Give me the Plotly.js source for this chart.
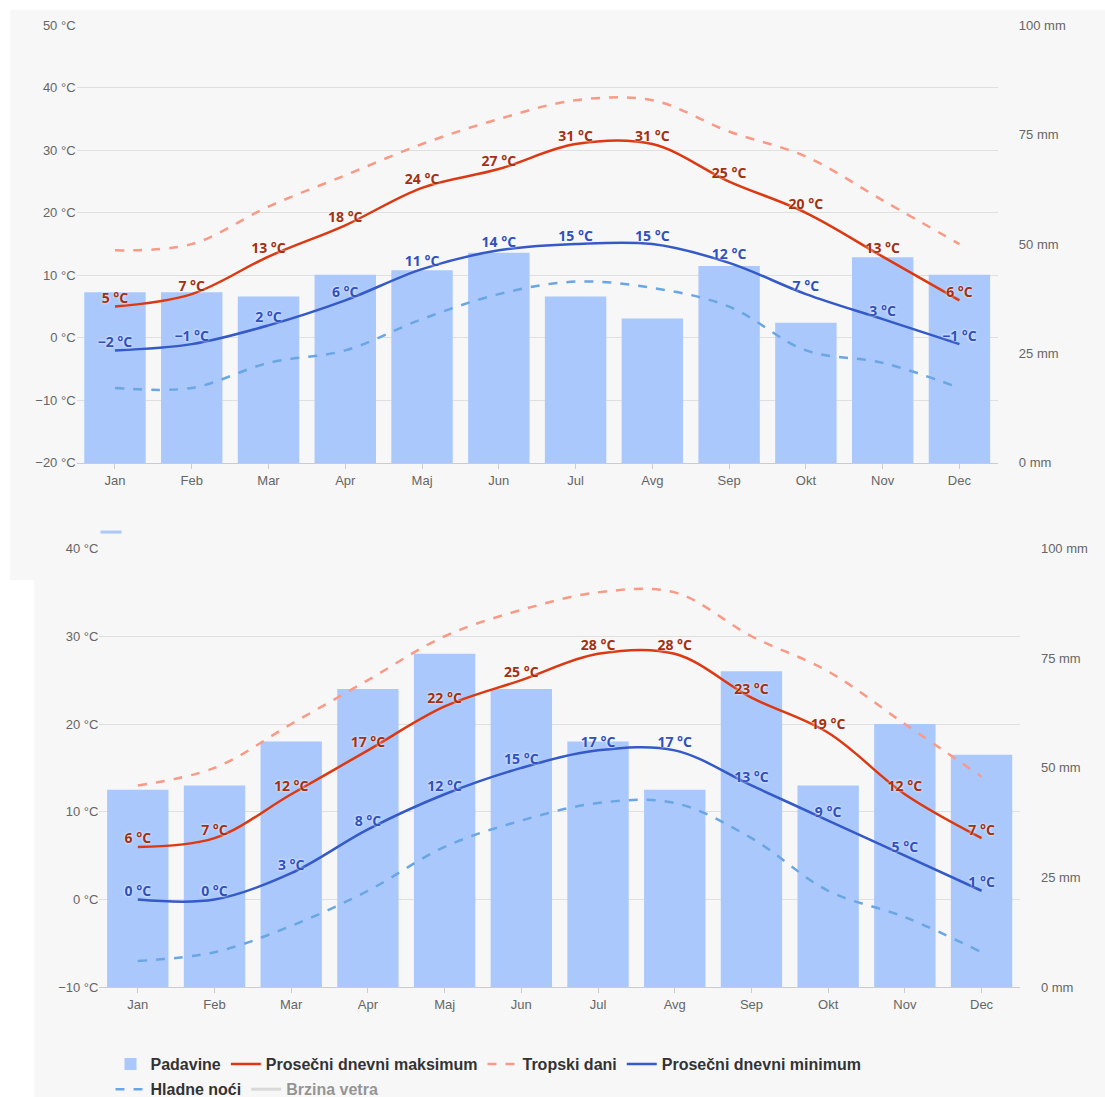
<!DOCTYPE html>
<html><head><meta charset="utf-8">
<script src="https://cdn.plot.ly/plotly-3.0.1.min.js"></script>
<style>body{margin:0;background:#fff}#c{width:1105px;height:1097px}</style>
</head><body><div id="c"></div>
<script>
const months=['Jan','Feb','Mar','Apr','Maj','Jun','Jul','Avg','Sep','Okt','Nov','Dec'];
// top chart
const rain1=[39,39,38,43,44,48,38,33,45,32,47,43];
const max1=[5,7,13,18,24,27,31,31,25,20,13,6];
const trop1=[14,15,21,26,31,35,38,38,33,29,22,15];
const min1=[-2,-1,2,6,11,14,15,15,12,7,3,-1];
const cold1=[-8,-8,-4,-2,3,7,9,8,5,-2,-4,-8];
// bottom chart
const rain2=[45,46,56,68,76,68,56,45,72,46,60,53];
const max2=[6,7,12,17,22,25,28,28,23,19,12,7];
const trop2=[13,15,20,25,30,33,35,35,30,26,20,14];
const min2=[0,0,3,8,12,15,17,17,13,9,5,1];
const cold2=[-7,-6,-3,1,6,9,11,11,7,1,-2,-6];

const lab=v=>v.map(x=>(x<0?'\u2212'+(-x):x)+' °C');
const F='"Liberation Sans Narrow","Liberation Sans","Open Sans",sans-serif';
const tf=c=>({family:'"Open Sans",sans-serif',size:14,color:c,weight:'bold',shadow:'0 0 3px #fff'});
function set(rain,mx,tr,mn,cd,x,ya,ya2,leg){
  return [
   {type:'bar',name:'Padavine',x:months,y:rain,xaxis:x,yaxis:ya2,marker:{color:'#aac8fc'},showlegend:leg},
   {type:'scatter',mode:'lines+text',name:'Prosečni dnevni maksimum',x:months,y:mx,xaxis:x,yaxis:ya,line:{color:'#dc3912',width:2.5,shape:'spline'},text:lab(mx),textposition:'top center',textfont:tf('#a33010'),showlegend:leg},
   {type:'scatter',mode:'lines',name:'Tropski dani',x:months,y:tr,xaxis:x,yaxis:ya,line:{color:'#fa9a86',width:2.5,dash:'dash',shape:'spline'},showlegend:leg},
   {type:'scatter',mode:'lines+text',name:'Prosečni dnevni minimum',x:months,y:mn,xaxis:x,yaxis:ya,line:{color:'#3459c9',width:2.5,shape:'spline'},text:lab(mn),textposition:'top center',textfont:tf('#3050c0'),showlegend:leg},
   {type:'scatter',mode:'lines',name:'Hladne noći',x:months,y:cd,xaxis:x,yaxis:ya,line:{color:'#6aa6e4',width:2.5,dash:'dash',shape:'spline'},showlegend:leg,legend:'legend2'}
  ];
}
const data=[...set(rain1,max1,trop1,min1,cold1,'x','y2','y',false),
            ...set(rain2,max2,trop2,min2,cold2,'x2','y4','y3',true),
            {type:'scatter',mode:'lines',name:'Brzina vetra',x:months,y:min2,xaxis:'x2',yaxis:'y4',line:{color:'#bbb',width:3},visible:'legendonly',legend:'legend2'}];
const tk={family:F,size:13,color:'#666'};
const lg=yy=>({orientation:'h',x:0.1,y:yy,yanchor:'middle',xanchor:'left',font:{family:F,size:16,color:'#333',weight:'bold'},bgcolor:'rgba(0,0,0,0)',traceorder:'normal'});
const L={
 width:1105,height:1097,margin:{l:0,r:0,t:0,b:0,autoexpand:false},paper_bgcolor:'#f7f7f7',plot_bgcolor:'#f7f7f7',
 font:{family:F},bargap:0.2,
 xaxis:{domain:[0.0693,0.903],range:[-0.5,11.5],anchor:'y',tickfont:tk,showgrid:false,showline:true,linecolor:'#ccc',ticks:'outside',tickcolor:'#ccc',automargin:false},
 yaxis:{domain:[0.578,0.977],range:[0,100],dtick:25,ticksuffix:' mm',side:'right',tickfont:tk,showgrid:false,zeroline:false,anchor:'x',automargin:false,ticklabelstandoff:20},
 yaxis2:{overlaying:'y',side:'left',range:[-20,50],dtick:10,ticksuffix:' °C',tickfont:tk,gridcolor:'#e0e0e0',zeroline:false,anchor:'x',automargin:false},
 xaxis2:{domain:[0.09,0.923],range:[-0.5,11.5],anchor:'y3',tickfont:tk,showgrid:false,showline:true,linecolor:'#ccc',ticks:'outside',tickcolor:'#ccc',automargin:false},
 yaxis3:{domain:[0.1,0.5],range:[0,100],dtick:25,ticksuffix:' mm',side:'right',tickfont:tk,showgrid:false,zeroline:false,anchor:'x2',automargin:false,ticklabelstandoff:20},
 yaxis4:{overlaying:'y3',side:'left',range:[-10,40],dtick:10,ticksuffix:' °C',tickfont:tk,gridcolor:'#e0e0e0',zeroline:false,anchor:'x2',automargin:false},
 legend:lg(0.03),
 legend2:lg(0.007),
 shapes:[
  {type:'rect',xref:'paper',yref:'paper',x0:0,x1:0.009,y0:0,y1:1,fillcolor:'#fff',line:{width:0},layer:'below'},
  {type:'rect',xref:'paper',yref:'paper',x0:0,x1:1,y0:0.991,y1:1,fillcolor:'#fff',line:{width:0},layer:'below'},
  {type:'rect',xref:'paper',yref:'paper',x0:0,x1:0.031,y0:0,y1:0.471,fillcolor:'#fff',line:{width:0},layer:'below'},
  {type:'line',xref:'paper',yref:'paper',x0:0.091,x1:0.11,y0:0.515,y1:0.515,line:{color:'#aac8fc',width:3}}
 ]
};
Plotly.newPlot('c',data,L,{staticPlot:true});
</script></body></html>
